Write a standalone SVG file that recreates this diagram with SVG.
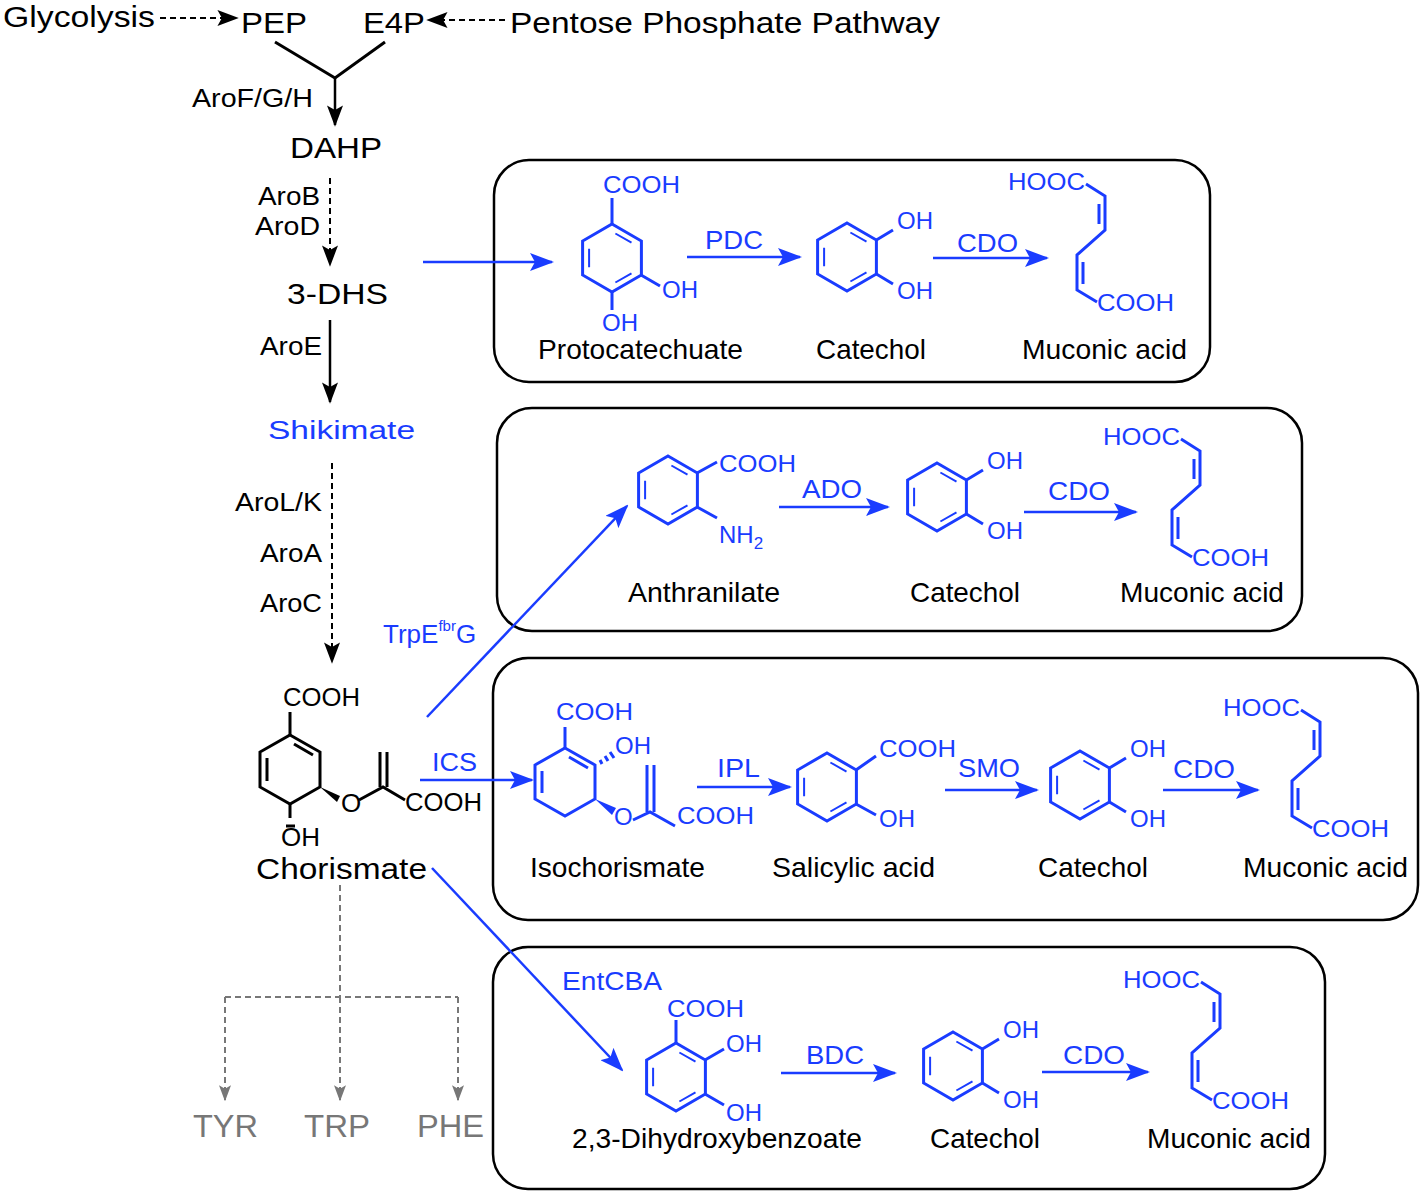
<svg xmlns="http://www.w3.org/2000/svg" xmlns:xlink="http://www.w3.org/1999/xlink" width="1423" height="1194" viewBox="0 0 1423 1194">
<style>
text{font-family:"Liberation Sans",Arial,sans-serif}
.t{font-size:30px;fill:#000}
.e{font-size:26px;fill:#000}
.n{font-size:28px;fill:#000}
.b{fill:#1a3cff;font-size:26px}
.c{fill:#1a3cff;font-size:24px}
.g{fill:#777;font-size:32px}
.box{fill:none;stroke:#000;stroke-width:2.5}
.bl{stroke:#1a3cff;stroke-width:3;fill:none}
.bk{stroke:#000;stroke-width:3;fill:none}
.ab{stroke:#1a3cff;stroke-width:2.5;fill:none;marker-end:url(#mb)}
.ak{stroke:#000;stroke-width:2.5;fill:none;marker-end:url(#mk)}
.dk{stroke:#000;stroke-width:2;fill:none;stroke-dasharray:6,4;marker-end:url(#mk)}
.dg{stroke:#777;stroke-width:2;fill:none;stroke-dasharray:6,4}
</style>
<defs>
<marker id="mb" viewBox="0 0 24 18" refX="22" refY="9" markerWidth="24" markerHeight="18" markerUnits="userSpaceOnUse" orient="auto"><path d="M0,0 L24,9 L0,18 L5,9z" fill="#1a3cff"/></marker>
<marker id="mk" viewBox="0 0 24 18" refX="22" refY="9" markerWidth="22" markerHeight="16" markerUnits="userSpaceOnUse" orient="auto"><path d="M0,0 L24,9 L0,18 L5,9z" fill="#000"/></marker>
<marker id="mg" viewBox="0 0 24 18" refX="22" refY="9" markerWidth="16" markerHeight="13" markerUnits="userSpaceOnUse" orient="auto"><path d="M0,0 L24,9 L0,18 L5,9z" fill="#777"/></marker>
<g id="ring" class="bl">
<polygon points="0,-34 29.4,-17 29.4,17 0,34 -29.4,17 -29.4,-17"/>
<path d="M3.4,-24.5 L19.5,-15.3 M19.5,15.3 L3.4,24.5 M-22.9,9.3 L-22.9,-9.3" stroke-width="2"/>
</g>
<g id="cat">
<use xlink:href="#ring"/>
<path class="bl" d="M29.4,-17 L46,-27 M29.4,17 L46,27"/>
<text class="c" x="50" y="-28">OH</text>
<text class="c" x="50" y="42">OH</text>
</g>
<g id="muc">
<text class="c" x="0" y="0" textLength="77" lengthAdjust="spacingAndGlyphs">HOOC</text>
<path class="bl" d="M78,-6 L97,6 L97,40 L69,65 L69,100 L89,112"/>
<path class="bl" stroke-width="2" d="M91,14 L91,34 M75,72 L75,94"/>
<text class="c" x="89" y="121" textLength="77" lengthAdjust="spacingAndGlyphs">COOH</text>
</g>
</defs>

<g id="boxes">
<rect class="box" x="494" y="160" width="716" height="222" rx="35"/>
<rect class="box" x="497" y="408" width="805" height="223" rx="35"/>
<rect class="box" x="493" y="658" width="925" height="262" rx="35"/>
<rect class="box" x="493" y="947" width="832" height="242" rx="35"/>
</g>

<g id="connectors">
<path class="dk" d="M160,18 H237"/>
<path class="dk" d="M505,20 H428"/>
<path class="bk" stroke-width="2.5" d="M275,42 L335,78 L385,42"/>
<path class="ak" d="M335,78 V125"/>
<path class="dk" d="M330,178 V265"/>
<path class="ak" d="M330,320 V402"/>
<path class="dk" d="M332,463 V662"/>
<path class="ab" d="M423,262 H552"/>
<path class="ab" d="M427,717 L627,506"/>
<path class="ab" d="M420,780 H532"/>
<path class="ab" d="M432,868 L622,1070"/>
<path class="dg" d="M340,885 V997 M225,997 H458"/>
<path class="dg" marker-end="url(#mg)" d="M225,997 V1100"/>
<path class="dg" marker-end="url(#mg)" d="M340,997 V1100"/>
<path class="dg" marker-end="url(#mg)" d="M458,997 V1100"/>
<path class="ab" d="M687,257 H800"/>
<path class="ab" d="M933,258 H1047"/>
<path class="ab" d="M779,507 H888"/>
<path class="ab" d="M1024,512 H1136"/>
<path class="ab" d="M697,787 H790"/>
<path class="ab" d="M945,790 H1037"/>
<path class="ab" d="M1163,790 H1258"/>
<path class="ab" d="M781,1073 H895"/>
<path class="ab" d="M1042,1072 H1148"/>
</g>

<g id="labels">
<text class="t" x="3" y="27" textLength="152" lengthAdjust="spacingAndGlyphs">Glycolysis</text>
<text class="t" x="241" y="33" textLength="66" lengthAdjust="spacingAndGlyphs">PEP</text>
<text class="t" x="363" y="33" textLength="62" lengthAdjust="spacingAndGlyphs">E4P</text>
<text class="t" x="510" y="33" textLength="430" lengthAdjust="spacingAndGlyphs">Pentose Phosphate Pathway</text>
<text class="e" x="192" y="107" textLength="121" lengthAdjust="spacingAndGlyphs">AroF/G/H</text>
<text class="t" x="290" y="158" textLength="92" lengthAdjust="spacingAndGlyphs">DAHP</text>
<text class="e" x="258" y="205" textLength="62" lengthAdjust="spacingAndGlyphs">AroB</text>
<text class="e" x="255" y="235" textLength="65" lengthAdjust="spacingAndGlyphs">AroD</text>
<text class="t" x="287" y="304" textLength="101" lengthAdjust="spacingAndGlyphs">3-DHS</text>
<text class="e" x="260" y="355" textLength="62" lengthAdjust="spacingAndGlyphs">AroE</text>
<text class="b" x="268" y="439" font-size="31" textLength="147" lengthAdjust="spacingAndGlyphs">Shikimate</text>
<text class="e" x="235" y="511" textLength="87" lengthAdjust="spacingAndGlyphs">AroL/K</text>
<text class="e" x="260" y="562" textLength="62" lengthAdjust="spacingAndGlyphs">AroA</text>
<text class="e" x="260" y="612" textLength="62" lengthAdjust="spacingAndGlyphs">AroC</text>
<text class="t" x="256" y="879" font-size="32" textLength="171" lengthAdjust="spacingAndGlyphs">Chorismate</text>
<text class="b" x="383" y="643">TrpE<tspan font-size="15" dy="-12">fbr</tspan><tspan dy="12">G</tspan></text>
<text class="b" x="432" y="771" textLength="45" lengthAdjust="spacingAndGlyphs">ICS</text>
<text class="b" x="562" y="990" textLength="100" lengthAdjust="spacingAndGlyphs">EntCBA</text>
<text class="g" x="193" y="1137" textLength="65" lengthAdjust="spacingAndGlyphs">TYR</text>
<text class="g" x="304" y="1137" textLength="66" lengthAdjust="spacingAndGlyphs">TRP</text>
<text class="g" x="417" y="1137" textLength="67" lengthAdjust="spacingAndGlyphs">PHE</text>
<text class="b" x="705" y="249" textLength="58" lengthAdjust="spacingAndGlyphs">PDC</text>
<text class="b" x="957" y="252" textLength="61" lengthAdjust="spacingAndGlyphs">CDO</text>
<text class="b" x="802" y="498" textLength="60" lengthAdjust="spacingAndGlyphs">ADO</text>
<text class="b" x="1048" y="500" textLength="62" lengthAdjust="spacingAndGlyphs">CDO</text>
<text class="b" x="717" y="777" textLength="43" lengthAdjust="spacingAndGlyphs">IPL</text>
<text class="b" x="958" y="777" textLength="62" lengthAdjust="spacingAndGlyphs">SMO</text>
<text class="b" x="1173" y="778" textLength="62" lengthAdjust="spacingAndGlyphs">CDO</text>
<text class="b" x="806" y="1064" textLength="58" lengthAdjust="spacingAndGlyphs">BDC</text>
<text class="b" x="1063" y="1064" textLength="62" lengthAdjust="spacingAndGlyphs">CDO</text>
<text class="n" x="538" y="359" textLength="205" lengthAdjust="spacingAndGlyphs">Protocatechuate</text>
<text class="n" x="816" y="359" textLength="110" lengthAdjust="spacingAndGlyphs">Catechol</text>
<text class="n" x="1022" y="359" textLength="165" lengthAdjust="spacingAndGlyphs">Muconic acid</text>
<text class="n" x="628" y="602" textLength="152" lengthAdjust="spacingAndGlyphs">Anthranilate</text>
<text class="n" x="910" y="602" textLength="110" lengthAdjust="spacingAndGlyphs">Catechol</text>
<text class="n" x="1120" y="602" textLength="164" lengthAdjust="spacingAndGlyphs">Muconic acid</text>
<text class="n" x="530" y="877" textLength="175" lengthAdjust="spacingAndGlyphs">Isochorismate</text>
<text class="n" x="772" y="877" textLength="163" lengthAdjust="spacingAndGlyphs">Salicylic acid</text>
<text class="n" x="1038" y="877" textLength="110" lengthAdjust="spacingAndGlyphs">Catechol</text>
<text class="n" x="1243" y="877" textLength="165" lengthAdjust="spacingAndGlyphs">Muconic acid</text>
<text class="n" x="572" y="1148" textLength="290" lengthAdjust="spacingAndGlyphs">2,3-Dihydroxybenzoate</text>
<text class="n" x="930" y="1148" textLength="110" lengthAdjust="spacingAndGlyphs">Catechol</text>
<text class="n" x="1147" y="1148" textLength="164" lengthAdjust="spacingAndGlyphs">Muconic acid</text>
</g>

<g id="protocatechuate">
<use xlink:href="#ring" x="612" y="258"/>
<path class="bl" d="M612,224 V198 M641,275 L660,286 M612,292 V310"/>
<text class="c" x="603" y="193" textLength="77" lengthAdjust="spacingAndGlyphs">COOH</text>
<text class="c" x="662" y="298">OH</text>
<text class="c" x="602" y="331">OH</text>
</g>
<use id="catechol1" xlink:href="#cat" x="847" y="257"/>
<use id="muconic1" xlink:href="#muc" x="1008" y="190"/>

<g id="anthranilate">
<use xlink:href="#ring" x="668" y="490"/>
<path class="bl" d="M697,473 L717,462 M697,507 L717,518"/>
<text class="c" x="719" y="472" textLength="77" lengthAdjust="spacingAndGlyphs">COOH</text>
<text class="c" x="719" y="543">NH<tspan font-size="17" dy="6">2</tspan></text>
</g>
<use id="catechol2" xlink:href="#cat" x="937" y="497"/>
<use id="muconic2" xlink:href="#muc" x="1103" y="445"/>

<g id="chorismate">
<polygon class="bk" points="290,735 320,752 320,787 290,804 260,787 260,752"/>
<path class="bk" stroke-width="2" d="M294,744 L313,755 M267,758 L267,781"/>
<path class="bk" d="M290,735 V712 M359,800 L383,787 L405,800 M290,804 V818"/>
<path class="bk" stroke-width="2" d="M380,787 V752 M387,787 V752 M286,826 H295"/>
<polygon points="320,787 340,796 337,802" fill="#000"/>
<text class="e" x="283" y="706" font-size="24" textLength="77" lengthAdjust="spacingAndGlyphs">COOH</text>
<text class="e" x="341" y="812" font-size="24">O</text>
<text class="e" x="405" y="811" font-size="24" textLength="77" lengthAdjust="spacingAndGlyphs">COOH</text>
<text class="e" x="281" y="846" font-size="24">OH</text>
</g>

<g id="isochorismate">
<polygon class="bl" points="565,748 595,765 595,799 565,816 535,799 535,765"/>
<path class="bl" stroke-width="2" d="M569,757 L588,768 M542,771 L542,793"/>
<path class="bl" d="M565,748 V727 M633,820 L650,812 L675,826"/>
<path class="bl" stroke-width="2" d="M647,812 V765 M654,812 V765 M600,760 L602,764 M605,756 L608,761 M610,752 L614,758"/>
<polygon points="595,799 616,808 612,815" fill="#1a3cff"/>
<text class="c" x="556" y="720" textLength="77" lengthAdjust="spacingAndGlyphs">COOH</text>
<text class="c" x="615" y="754">OH</text>
<text class="c" x="614" y="825">O</text>
<text class="c" x="677" y="824" textLength="77" lengthAdjust="spacingAndGlyphs">COOH</text>
</g>

<g id="salicylic">
<use xlink:href="#ring" x="827" y="787"/>
<path class="bl" d="M856,770 L876,756 M856,804 L876,815"/>
<text class="c" x="879" y="757" textLength="77" lengthAdjust="spacingAndGlyphs">COOH</text>
<text class="c" x="879" y="827">OH</text>
</g>
<use id="catechol3" xlink:href="#cat" x="1080" y="785"/>
<use id="muconic3" xlink:href="#muc" x="1223" y="716"/>

<g id="dhb">
<use xlink:href="#ring" x="676" y="1077"/>
<path class="bl" d="M676,1043 V1020 M705,1060 L724,1049 M705,1094 L724,1105"/>
<text class="c" x="667" y="1017" textLength="77" lengthAdjust="spacingAndGlyphs">COOH</text>
<text class="c" x="726" y="1052">OH</text>
<text class="c" x="726" y="1121">OH</text>
</g>
<use id="catechol4" xlink:href="#cat" x="953" y="1066"/>
<use id="muconic4" xlink:href="#muc" x="1123" y="988"/>
</svg>
